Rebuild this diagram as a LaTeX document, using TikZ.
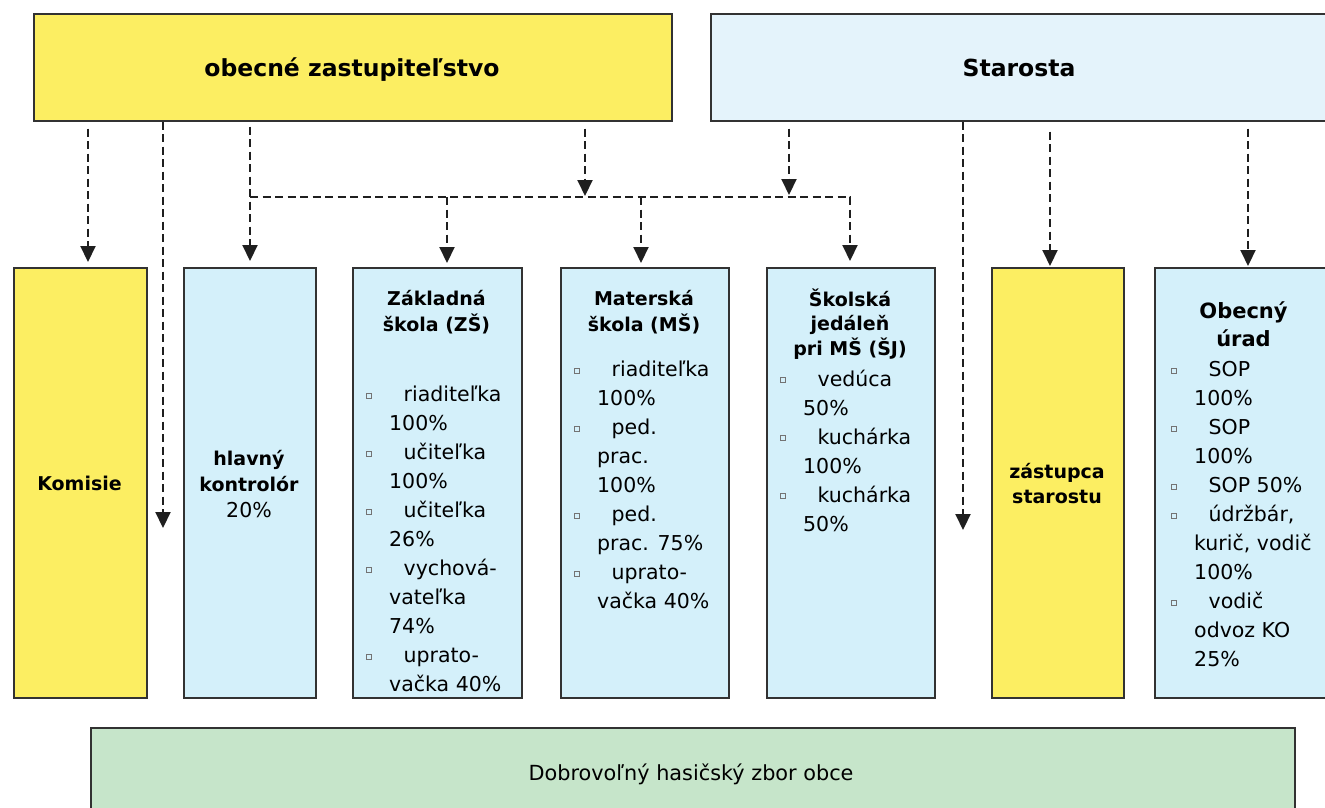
\documentclass[tikz,border=0pt]{standalone}
\usepackage{fontspec}
\setmainfont{DejaVu Sans}
\usetikzlibrary{arrows.meta,calc}
\definecolor{yel}{RGB}{252,238,98}
\definecolor{lblue}{RGB}{212,240,250}
\definecolor{pblue}{RGB}{228,243,251}
\definecolor{lgreen}{RGB}{198,229,202}
\definecolor{edge}{RGB}{50,50,50}
\newcommand{\bul}{\raisebox{4pt}{\textcolor{black!55}{\setlength{\fboxsep}{0pt}\setlength{\fboxrule}{1pt}\fbox{\rule{0pt}{4pt}\hspace{4pt}}}}}
\newcommand{\bi}{\llap{\bul\hspace{17pt}}\hspace{14.5pt}}
\begin{document}
\begin{tikzpicture}[x=1pt,y=-1pt,
  box/.style={draw=edge,line width=1.6pt,inner sep=0pt,anchor=north west},
  conn/.style={draw=black!88,line width=2.1pt,dash pattern=on 8pt off 4.5pt},
  tip/.style={-{Triangle[width=15pt,length=16pt]}},
  ttl/.style={font=\bfseries\fontsize{23.5}{28}\selectfont,inner sep=0pt,anchor=base},
  hd/.style={font=\bfseries\fontsize{19}{#1}\selectfont,inner sep=0pt,align=center,anchor=north},
  hd/.default=24.8,
  lst/.style={font=\fontsize{20.5}{29}\selectfont,inner sep=0pt,align=left,anchor=north west},
  txt/.style={font=\fontsize{20.5}{29}\selectfont,inner sep=0pt,anchor=base}]
\useasboundingbox (0,0) rectangle (1325,808);

% boxes
\node[box,fill=yel,minimum width=638pt,minimum height=107pt] (oz) at (33,13) {};
\node[box,fill=pblue,minimum width=630pt,minimum height=107pt] (st) at (710,13) {};
\node[box,fill=yel,minimum width=133pt,minimum height=430pt] (km) at (13,267) {};
\node[box,fill=lblue,minimum width=132pt,minimum height=430pt] (hk) at (183,267) {};
\node[box,fill=lblue,minimum width=169pt,minimum height=430pt] (zs) at (352,267) {};
\node[box,fill=lblue,minimum width=168pt,minimum height=430pt] (ms) at (560,267) {};
\node[box,fill=lblue,minimum width=168pt,minimum height=430pt] (sj) at (766,267) {};
\node[box,fill=yel,minimum width=132pt,minimum height=430pt] (zst) at (991,267) {};
\node[box,fill=lblue,minimum width=190pt,minimum height=430pt] (ou) at (1154,267) {};
\node[box,fill=lgreen,minimum width=1204pt,minimum height=100pt] (dhz) at (90,727) {};

% texts
\node[ttl] (ozt) at (352,77) {obecné zastupiteľstvo};
\node[ttl] (stt) at (1019,77) {Starosta};
\node[hd,anchor=base] (kmt) at (79.5,490) {Komisie};
\node[hd=26.5] (hkt) at (249,446.5) {\strut hlavný\\kontrolór};
\node[txt] (hkp) at (249,517) {20\%};
\node[hd] (zst1) at (436.5,288.3) {\strut Základná\\škola (ZŠ)};
\node[hd] (mst) at (644,288.3) {\strut Materská\\škola (MŠ)};
\node[hd] (sjt) at (850,288.3) {\strut Školská\\jedáleň\\pri MŠ (ŠJ)};
\node[font=\bfseries\fontsize{21}{28}\selectfont,inner sep=0pt,align=center,anchor=north] (out) at (1243.5,298.4) {\strut Obecný\\úrad};
\node[hd=25] (zstt) at (1057,460.5) {\strut zástupca\\starostu};

\node[lst] (zsl) at (389,381.4) {\strut\bi riaditeľka\\100\%\\\bi učiteľka\\100\%\\\bi učiteľka\\26\%\\\bi vychová-\\vateľka\\74\%\\\bi uprato-\\vačka 40\%};
\node[lst] (msl) at (597,356.4) {\strut\bi riaditeľka\\100\%\\\bi ped.\\prac.\\100\%\\\bi ped.\\prac. 75\%\\\bi uprato-\\vačka 40\%};
\node[lst] (sjl) at (803,365.7) {\strut\bi vedúca\\50\%\\\bi kuchárka\\100\%\\\bi kuchárka\\50\%};
\node[lst] (oul) at (1194,356.4) {\strut\bi SOP\\100\%\\\bi SOP\\100\%\\\bi SOP 50\%\\\bi údržbár,\\kurič, vodič\\100\%\\\bi vodič\\odvoz KO\\25\%};

\node[txt,font=\fontsize{20.8}{25}\selectfont] (dht) at (691,780) {Dobrovoľný hasičský zbor obce};

% connector columns
\coordinate (cA) at (88,0);
\coordinate (cB) at (163,0);
\coordinate (cC) at (250,0);
\coordinate (cD) at (447,0);
\coordinate (cE) at (585,0);
\coordinate (cF) at (641,0);
\coordinate (cG) at (789,0);
\coordinate (cH) at (850,0);
\coordinate (cI) at (963,0);
\coordinate (cJ) at (1050,0);
\coordinate (cK) at (1248,0);
\coordinate (bus) at (0,197);
\coordinate (fB) at (163,528);
\coordinate (fI) at (963,530);

\draw[conn,tip] ($(oz.south -| cA)+(0,7)$) -- ($(km.north -| cA)+(0,-5)$);
\draw[conn,tip] (oz.south -| cB) -- (fB);
\draw[conn,tip] ($(oz.south -| cC)+(0,5)$) -- ($(hk.north -| cC)+(0,-6)$);
\draw[conn,tip] (bus -| cC) -- (bus -| cH) -- ($(sj.north -| cH)+(0,-6)$);
\draw[conn,tip] ($(oz.south -| cE)+(0,7)$) -- ($(bus -| cE)+(0,-1)$);
\draw[conn,tip] ($(st.south -| cG)+(0,7)$) -- ($(bus -| cG)+(0,-2)$);
\draw[conn,tip] (bus -| cD) -- ($(zs.north -| cD)+(0,-4)$);
\draw[conn,tip] (bus -| cF) -- ($(ms.north -| cF)+(0,-4)$);
\draw[conn,tip] (st.south -| cI) -- (fI);
\draw[conn,tip] ($(st.south -| cJ)+(0,10)$) -- ($(zst.north -| cJ)+(0,-1)$);
\draw[conn,tip] ($(st.south -| cK)+(0,7)$) -- ($(ou.north -| cK)+(0,-1)$);
\end{tikzpicture}
\end{document}
